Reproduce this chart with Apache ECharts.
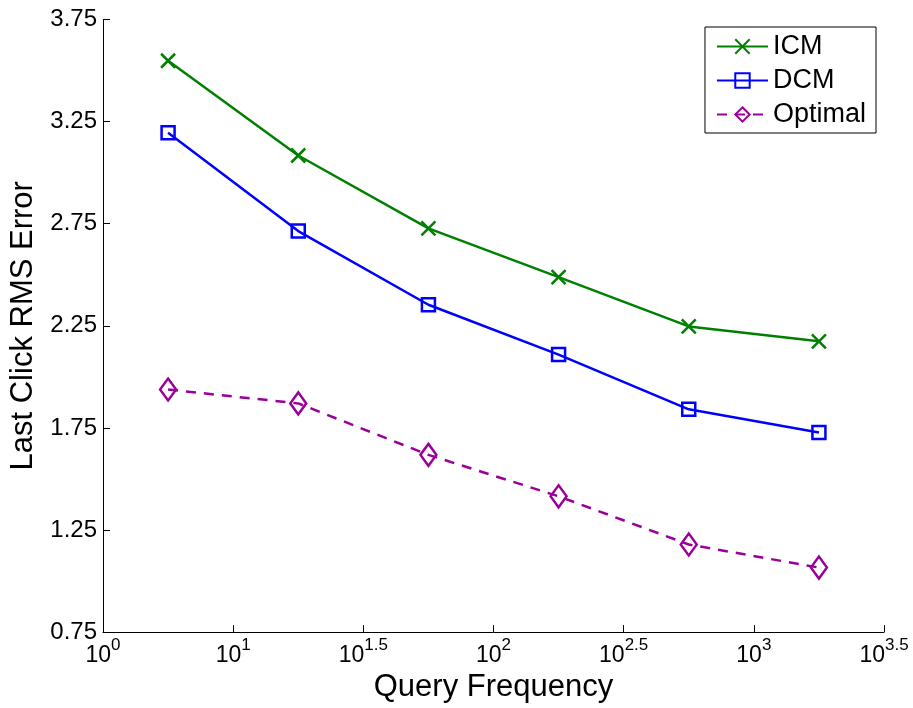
<!DOCTYPE html>
<html><head><meta charset="utf-8">
<script src="https://cdn.jsdelivr.net/npm/echarts@6/dist/echarts.min.js"></script>
<style>html,body{margin:0;padding:0;background:#fff}#c{width:913px;height:708px}</style>
</head><body><div id="c"></div>
<script>
// x positions as log10(query frequency) exponents
const xExp = [0.75, 1.25, 1.75, 2.25, 2.75, 3.25];
const icm = [3.548, 3.084, 2.727, 2.488, 2.247, 2.174];
const dcm = [3.195, 2.714, 2.353, 2.109, 1.841, 1.727];
const optimal = [1.938, 1.870, 1.618, 1.415, 1.179, 1.066];
const xTickLabels = {0.5:['10','0'],1:['10','1'],1.5:['10','1.5'],2:['10','2'],2.5:['10','2.5'],3:['10','3'],3.5:['10','3.5']};
const yTicks = ['0.75','1.25','1.75','2.25','2.75','3.25','3.75'];

const pair = (xs, ys) => xs.map((x, i) => [x, ys[i]]);
const FONT = '"Liberation Sans", Arial, sans-serif';
const cross = 'path://M0,0L10,10M10,0L0,10';

const chart = echarts.init(document.getElementById('c'), null, {renderer: 'canvas'});
chart.setOption({
  animation: false,
  backgroundColor: '#fff',
  grid: {left: 103, right: 29, top: 19.5, bottom: 73},
  legend: {
    right: 37, top: 27,
    orient: 'vertical',
    borderColor: '#000', borderWidth: 1,
    padding: [6, 10, 5, 11],
    itemGap: 7,
    itemWidth: 51, itemHeight: 18,
    textStyle: {fontFamily: FONT, fontSize: 27, lineHeight: 27, color: '#000'},
    data: ['ICM', 'DCM', 'Optimal']
  },
  xAxis: {
    type: 'value', min: 0.5, max: 3.5, interval: 0.5,
    name: 'Query Frequency', nameLocation: 'middle', nameGap: 34,
    nameTextStyle: {fontFamily: FONT, fontSize: 31, color: '#000'},
    axisLine: {lineStyle: {color: '#000', width: 1}},
    axisTick: {inside: true, length: 7, lineStyle: {color: '#000'}},
    splitLine: {show: false},
    axisLabel: {
      margin: 5,
      formatter: v => { const t = xTickLabels[v]; return t ? '{b|' + t[0] + '}{s|' + t[1] + '}' : ''; },
      rich: {
        b: {fontFamily: FONT, fontSize: 23, color: '#000', verticalAlign: 'bottom', lineHeight: 30, padding: [8,0,0,0]},
        s: {fontFamily: FONT, fontSize: 17, color: '#000', verticalAlign: 'top', lineHeight: 30, padding: [0,0,8,0]}
      }
    }
  },
  yAxis: {
    type: 'value', min: 0.75, max: 3.75, interval: 0.5,
    name: 'Last Click RMS Error', nameLocation: 'middle', nameGap: 59, nameRotate: 90,
    nameTextStyle: {fontFamily: FONT, fontSize: 31, color: '#000'},
    axisLine: {show: true, lineStyle: {color: '#000', width: 1}},
    axisTick: {show: true, inside: true, length: 7, lineStyle: {color: '#000'}},
    splitLine: {show: false},
    axisLabel: {fontFamily: FONT, fontSize: 24, color: '#000', margin: 6,
      formatter: v => yTicks.find(t => Math.abs(parseFloat(t) - v) < 1e-6) || ''}
  },
  series: [
    {name: 'ICM', type: 'line', data: pair(xExp, icm), color: '#008000',
     lineStyle: {width: 2.5, color: '#008000'},
     symbol: cross, symbolSize: 14, showAllSymbol: true,
     itemStyle: {color: 'transparent', borderColor: '#008000', borderWidth: 2.5}},
    {name: 'DCM', type: 'line', data: pair(xExp, dcm), color: '#0000ff',
     lineStyle: {width: 2.5, color: '#0000ff'},
     symbol: 'rect', symbolSize: 13,
     itemStyle: {color: 'transparent', borderColor: '#0000ff', borderWidth: 2.5}},
    {name: 'Optimal', type: 'line', data: pair(xExp, optimal), color: '#990099',
     lineStyle: {width: 2.5, color: '#990099', type: [10, 8]},
     symbol: 'diamond', symbolSize: [16, 22],
     itemStyle: {color: 'transparent', borderColor: '#990099', borderWidth: 2.5}}
  ]
});
</script></body></html>
